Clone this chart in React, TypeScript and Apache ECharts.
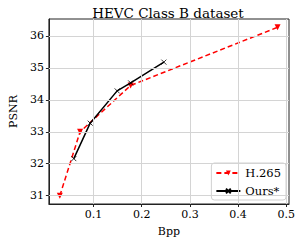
import React, { useEffect, useRef } from "react";
import * as echarts from "echarts";

const h265Bpp = [0.03, 0.072, 0.177, 0.482];
const h265Psnr = [31.0, 33.0, 34.45, 36.27];
const oursBpp = [0.059, 0.093, 0.149, 0.177, 0.246];
const oursPsnr = [32.16, 33.27, 34.28, 34.53, 35.18];
const xTicks = [0.1, 0.2, 0.3, 0.4, 0.5];
const yTicks = [31, 32, 33, 34, 35, 36];

const FONT = "DejaVu Serif";

export default function App() {
  const ref = useRef<HTMLDivElement>(null);
  useEffect(() => {
    const chart = echarts.init(ref.current!, null, { renderer: "svg" });
    chart.setOption({
      animation: false,
      backgroundColor: "#ffffff",
      title: {
        text: "HEVC Class B dataset",
        left: 163,
        top: 1,
        textAlign: "center",
        textStyle: { fontFamily: FONT, fontSize: 13.5, fontWeight: "normal", color: "#000" },
      },
      grid: {
        left: 38,
        right: 14,
        top: 19,
        bottom: 35,
        show: true,
        borderColor: "#222",
        borderWidth: 1,
        backgroundColor: "transparent",
      },
      legend: {
        right: 17,
        bottom: 42,
        orient: "vertical",
        itemWidth: 24,
        itemHeight: 6,
        itemGap: 6,
        padding: [4, 5, 3, 4],
        backgroundColor: "#fff",
        borderColor: "#d0d0d0",
        borderWidth: 1,
        borderRadius: 3,
        textStyle: { fontFamily: FONT, fontSize: 11.5, color: "#000" },
        data: ["H.265", "Ours*"],
      },
      xAxis: {
        type: "value",
        min: 0.0073,
        max: 0.5057,
        name: "Bpp",
        nameLocation: "middle",
        nameGap: 22,
        nameTextStyle: { fontFamily: FONT, fontSize: 11, color: "#000" },
        axisLine: { show: true, onZero: false, lineStyle: { color: "#222", width: 1 } },
        axisTick: { show: true, customValues: xTicks, length: 3, lineStyle: { color: "#222" } },
        axisLabel: {
          customValues: xTicks,
          fontFamily: FONT,
          fontSize: 11,
          color: "#000",
          margin: 5,
          formatter: (v: number) => String(Math.round(v * 10) / 10),
        },
        splitLine: { show: false },
      },
      yAxis: {
        type: "value",
        min: 30.74,
        max: 36.53,
        name: "PSNR",
        nameLocation: "middle",
        nameGap: 27,
        nameTextStyle: { fontFamily: FONT, fontSize: 11, color: "#000" },
        axisLine: { show: true, onZero: false, lineStyle: { color: "#222", width: 1 } },
        axisTick: { show: true, customValues: yTicks, length: 3, lineStyle: { color: "#222" } },
        axisLabel: {
          customValues: yTicks,
          fontFamily: FONT,
          fontSize: 11,
          color: "#000",
          margin: 5,
        },
        splitLine: { show: false },
      },
      series: [
        {
          name: "grid",
          type: "line",
          data: [],
          silent: true,
          markLine: {
            silent: true,
            symbol: "none",
            label: { show: false },
            lineStyle: { color: "#d4d4d4", type: "solid", width: 1 },
            data: [
              ...xTicks.map((v) => ({ xAxis: v })),
              ...yTicks.map((v) => ({ yAxis: v })),
            ],
          },
          z: 1,
        },
        {
          name: "H.265",
          type: "line",
          data: h265Bpp.map((b, i) => [b, h265Psnr[i]]),
          symbol: "triangle",
          symbolRotate: 180,
          symbolSize: 6,
          itemStyle: { color: "#ff0000" },
          lineStyle: { color: "#ff0000", width: 1.5, type: [5, 3] },
          z: 3,
        },
        {
          name: "Ours*",
          type: "line",
          data: oursBpp.map((b, i) => [b, oursPsnr[i]]),
          symbol: "path://M0,0L10,10M10,0L0,10",
          symbolSize: 5,
          showAllSymbol: true,
          itemStyle: { color: "#000", borderColor: "#000", borderWidth: 0.8 },
          lineStyle: { color: "#000", width: 1.5 },
          z: 4,
        },
      ],
    });
    return () => chart.dispose();
  }, []);
  return (
    <div
      ref={ref}
      style={{ position: "fixed", left: 0, top: 0, width: 303, height: 242 }}
    />
  );
}
